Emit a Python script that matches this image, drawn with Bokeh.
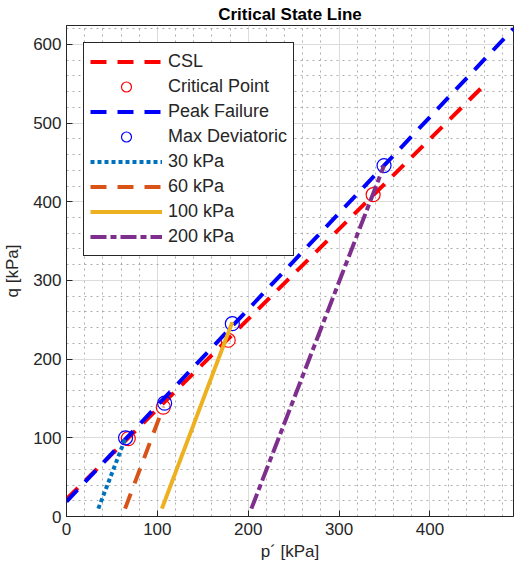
from bokeh.plotting import figure
from bokeh.models import Range1d, SingleIntervalTicker
from bokeh.embed import file_html
from bokeh.resources import INLINE

# ---- data ----
csl_p = [0, 457]
csl_q = [22, 545]
peak_p = [0, 492]
peak_q = [19, 620]
crit_p = [68, 106.5, 178, 337.5]
crit_q = [99, 139, 224, 409]
maxdev_p = [65, 108, 182.5, 349.5]
maxdev_q = [100, 144, 245, 446]
path30_p = [35, 65]
path30_q = [10, 100]
path60_p = [64.5, 106.5]
path60_q = [10, 139]
path100_p = [105, 182.5]
path100_q = [10, 247]
path200_p = [203.5, 349.5]
path200_q = [10, 446]

FONT = "Liberation Sans"
DARK = "#262626"

p = figure(width=515, height=565, x_range=Range1d(0, 492), y_range=Range1d(0, 624),
           output_backend="svg", toolbar_location=None,
           min_border_left=58, min_border_right=2, min_border_top=24, min_border_bottom=49,
           title="Critical State Line", x_axis_label="p´ [kPa]", y_axis_label="q [kPa]")

p.title.align = "center"
p.title.text_font = FONT
p.title.text_font_size = "17px"
p.title.text_font_style = "bold"
p.title.text_color = "black"
p.title.standoff = 4

for ax in (p.xaxis[0], p.yaxis[0]):
    ax.ticker = SingleIntervalTicker(interval=100, num_minor_ticks=5)
    ax.major_tick_in = 6
    ax.major_tick_out = 0
    ax.minor_tick_in = 0
    ax.minor_tick_out = 0
    ax.axis_line_color = DARK
    ax.major_tick_line_color = DARK
    ax.major_label_text_font = FONT
    ax.major_label_text_font_size = "17px"
    ax.major_label_text_color = DARK
    ax.axis_label_text_font = FONT
    ax.axis_label_text_font_size = "17px"
    ax.axis_label_text_font_style = "normal"
    ax.axis_label_text_color = DARK
p.xaxis.major_label_standoff = 6
p.yaxis.major_label_standoff = 5
p.yaxis.axis_label_standoff = 8
p.xaxis.axis_label_standoff = 4

p.grid.grid_line_color = "#dcdcdc"
p.grid.grid_line_width = 1
p.grid.minor_grid_line_color = "#9a9a9a"
p.grid.minor_grid_line_dash = "2 4"
p.grid.minor_grid_line_alpha = 0.8

p.outline_line_color = DARK
p.outline_line_width = 1
p.outline_line_alpha = 1

p.line(csl_p, csl_q, line_color="#ff0000", line_width=4, line_dash="16 11", legend_label="CSL")
p.scatter(crit_p, crit_q, marker="circle", size=14, fill_color=None, line_color="#ff0000",
          line_width=1.2, legend_label="Critical Point")
p.line(peak_p, peak_q, line_color="#0000ff", line_width=4, line_dash="16 11", legend_label="Peak Failure")
p.scatter(maxdev_p, maxdev_q, marker="circle", size=14, fill_color=None, line_color="#0000ff",
          line_width=1.2, legend_label="Max Deviatoric")
p.line(path30_p, path30_q, line_color="#0072BD", line_width=4, line_dash="4 3", legend_label="30 kPa")
p.line(path60_p, path60_q, line_color="#D95319", line_width=4, line_dash="16 11", legend_label="60 kPa")
p.line(path100_p, path100_q, line_color="#EDB120", line_width=4, legend_label="100 kPa")
p.line(path200_p, path200_q, line_color="#7E2F8E", line_width=4, line_dash="16 4 6 4", legend_label="200 kPa")

leg = p.legend[0]
leg.location = "top_left"
leg.margin = 17
leg.padding = 6
leg.spacing = 0
leg.label_height = 25
leg.glyph_height = 25
leg.glyph_width = 72
leg.label_standoff = 6
leg.label_text_font = FONT
leg.label_text_font_size = "18px"
leg.label_text_color = DARK
leg.border_line_color = DARK
leg.border_line_width = 1
leg.border_line_alpha = 1
leg.background_fill_color = "white"
leg.background_fill_alpha = 1

open("out.html", "w").write(file_html(p, INLINE))
